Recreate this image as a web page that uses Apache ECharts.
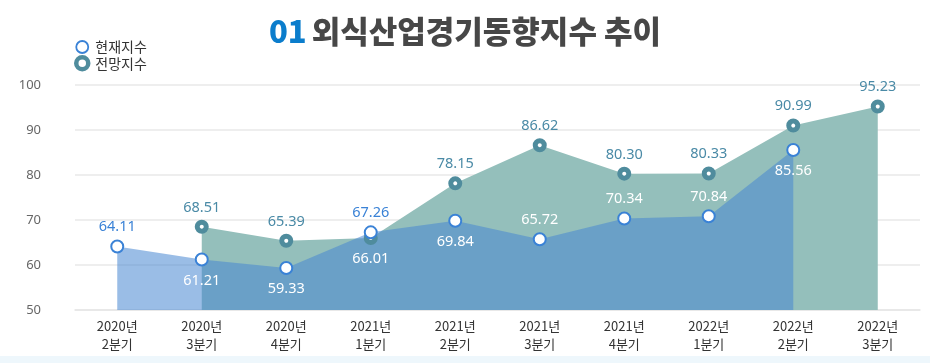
<!DOCTYPE html>
<html>
<head>
<meta charset="utf-8">
<script src="https://cdn.jsdelivr.net/npm/echarts@6/dist/echarts.min.js"></script>
<style>
html,body{margin:0;padding:0;background:#fff;}
#c{width:930px;height:363px;}
</style>
</head>
<body>
<div id="c"></div>
<script>
// ---- data ----
const categories = ['2020년\n2분기','2020년\n3분기','2020년\n4분기','2021년\n1분기','2021년\n2분기','2021년\n3분기','2021년\n4분기','2022년\n1분기','2022년\n2분기','2022년\n3분기'];
const currentIndex = [64.11, 61.21, 59.33, 67.26, 69.84, 65.72, 70.34, 70.84, 85.56, null];
const outlookIndex = [null, 68.51, 65.39, 66.01, 78.15, 86.62, 80.30, 80.33, 90.99, 95.23];
const yTicks = [50, 60, 70, 80, 90, 100];

// ---- styles ----
const BLUE = '#3a82d6';
const TEAL = '#4f8c9d';
const LABEL_TEAL = '#4a8aa6';
const curLabelPos = ['top','bottom','bottom','top','bottom','top','top','top','bottom','top'];
const curLabelColor = [BLUE,'#fff','#fff',BLUE,'#fff','#fff','#fff','#fff','#fff','#fff'];
const outLabelPos = ['top','top','top','bottom','top','top','top','top','top','top'];
const outLabelColor = [LABEL_TEAL,LABEL_TEAL,LABEL_TEAL,'#fff',LABEL_TEAL,LABEL_TEAL,LABEL_TEAL,LABEL_TEAL,LABEL_TEAL,LABEL_TEAL];
const FONT = '"Noto Sans", "Noto Sans CJK KR", sans-serif';

function labelled(values, pos, col) {
  return values.map((v, i) => v == null ? null : ({
    value: v,
    label: {position: pos[i], color: col[i], distance: pos[i] === 'top' ? 5 : 7}
  }));
}

const chart = echarts.init(document.getElementById('c'), null, {renderer: 'canvas'});
chart.setOption({
  backgroundColor: '#fff',
  animation: false,
  title: {
    text: '{a|01} {b|외식산업경기동향지수 추이}',
    left: 'center',
    top: 11,
    textStyle: {
      rich: {
        a: {fontFamily: '"Noto Sans CJK KR"', fontSize: 31, fontWeight: 900, color: '#0b7dcc'},
        b: {fontFamily: '"Noto Sans CJK KR"', fontSize: 31, fontWeight: 900, color: '#474747'}
      }
    }
  },
  legend: {
    orient: 'vertical',
    left: 69,
    top: 35,
    itemWidth: 16,
    itemHeight: 12,
    itemGap: 1,
    textStyle: {fontFamily: '"Noto Sans CJK KR"', fontSize: 14, color: '#333'},
    data: [
      {name: '현재지수', icon: 'circle', itemStyle: {color: '#fff', borderColor: BLUE, borderWidth: 1.8}},
      {name: '전망지수', icon: 'circle', itemStyle: {color: '#fff', borderColor: TEAL, borderWidth: 4.5}}
    ]
  },
  graphic: [{type: 'rect', left: 0, top: 356, shape: {width: 930, height: 7}, style: {fill: '#eef7fc'}, silent: true}],
  grid: {left: 75, right: 10, top: 85, bottom: 53},
  xAxis: {
    type: 'category',
    data: categories,
    boundaryGap: true,
    axisLine: {show: true, lineStyle: {color: '#e6e6e6', width: 1.5}},
    axisTick: {show: false},
    axisLabel: {fontFamily: '"Noto Sans CJK KR"', fontSize: 13, color: '#333', lineHeight: 18, margin: 7}
  },
  yAxis: {
    type: 'value',
    min: yTicks[0],
    max: yTicks[yTicks.length - 1],
    interval: 10,
    axisLine: {show: false},
    axisTick: {show: false},
    axisLabel: {fontFamily: FONT, fontSize: 13, color: '#666', margin: 34},
    splitLine: {lineStyle: {color: '#e8e8e8', width: 1.5}}
  },
  series: [
    {
      name: '전망지수 영역', type: 'line', data: outlookIndex, z: 2,
      symbol: 'none', lineStyle: {width: 0, opacity: 0},
      areaStyle: {color: '#94bfbb', opacity: 1}, silent: true
    },
    {
      name: '현재지수 영역', type: 'line', data: currentIndex, z: 3,
      symbol: 'none', lineStyle: {width: 0, opacity: 0},
      areaStyle: {color: 'rgb(71,135,210)', opacity: 0.55}, silent: true
    },
    {
      name: '현재지수', type: 'line', z: 5,
      data: labelled(currentIndex, curLabelPos, curLabelColor),
      symbol: 'circle', symbolSize: 12, showAllSymbol: true,
      lineStyle: {width: 0, opacity: 0},
      itemStyle: {color: '#fff', borderColor: BLUE, borderWidth: 2},
      label: {show: true, fontFamily: FONT, fontSize: 14.5, formatter: p => Number(p.value).toFixed(2)}
    },
    {
      name: '전망지수', type: 'line', z: 4,
      data: labelled(outlookIndex, outLabelPos, outLabelColor),
      symbol: 'circle', symbolSize: 9, showAllSymbol: true,
      lineStyle: {width: 0, opacity: 0},
      itemStyle: {color: '#fff', borderColor: TEAL, borderWidth: 5},
      label: {show: true, fontFamily: FONT, fontSize: 14.5, formatter: p => Number(p.value).toFixed(2)}
    }
  ]
});
</script>
</body>
</html>
